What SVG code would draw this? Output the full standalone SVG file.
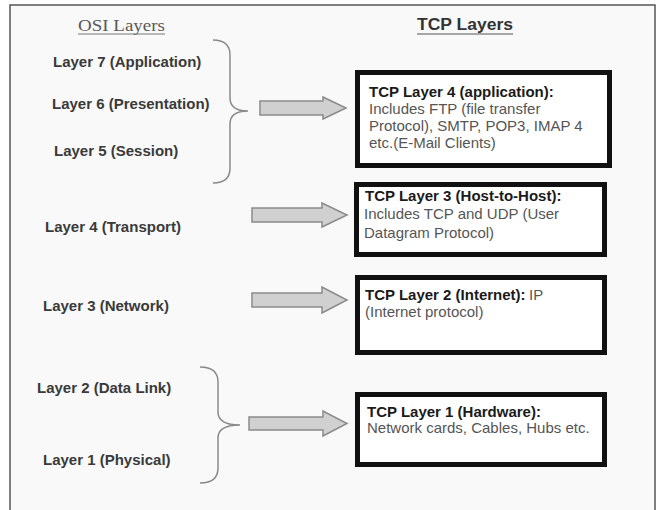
<svg xmlns="http://www.w3.org/2000/svg" width="659" height="510" viewBox="0 0 659 510">
<style>
.lbl{font-family:"Liberation Sans",Arial,sans-serif;font-size:15px;font-weight:bold;fill:#3a3a3a}
.ttl{font-family:"Liberation Sans",Arial,sans-serif;font-size:15px;font-weight:bold;fill:#1a1a1a}
.body{font-family:"Liberation Sans",Arial,sans-serif;font-size:15px;fill:#555}
.box{fill:#fff;stroke:#111;stroke-width:5}
.arrow{fill:#d0d0d0;stroke:#8a8a8a;stroke-width:1.5;stroke-linejoin:miter}
.brace{fill:none;stroke:#8a8a8a;stroke-width:1.5}
</style>
<rect x="0" y="0" width="659" height="510" fill="#fff"/>
<rect x="10" y="5" width="645" height="505" fill="#f9f9f9"/>
<path d="M10,510 V5 H655 V510" fill="none" stroke="#555" stroke-width="1.5"/>

<g id="headers">
<text x="78" y="31" font-family="'Liberation Serif','Times New Roman',serif" font-size="16" fill="#5a5a5a" textLength="87" lengthAdjust="spacingAndGlyphs">OSI Layers</text>
<line x1="78" y1="34" x2="165" y2="34" stroke="#777" stroke-width="1"/>
<text x="417" y="30" font-family="'Liberation Sans',Arial,sans-serif" font-size="16" font-weight="bold" fill="#333" textLength="96" lengthAdjust="spacingAndGlyphs">TCP Layers</text>
<line x1="417" y1="34" x2="513" y2="34" stroke="#555" stroke-width="1"/>
</g>

<g id="osi7"><text class="lbl" x="53" y="67">Layer 7 (Application)</text></g>
<g id="osi6"><text class="lbl" x="52" y="109">Layer 6 (Presentation)</text></g>
<g id="osi5"><text class="lbl" x="54" y="156">Layer 5 (Session)</text></g>
<g id="osi4"><text class="lbl" x="45" y="232">Layer 4 (Transport)</text></g>
<g id="osi3"><text class="lbl" x="43" y="311">Layer 3 (Network)</text></g>
<g id="osi2"><text class="lbl" x="37" y="393">Layer 2 (Data Link)</text></g>
<g id="osi1"><text class="lbl" x="43" y="465">Layer 1 (Physical)</text></g>

<g id="tcp4">
<rect class="box" x="357.5" y="72.5" width="252" height="93"/>
<text class="ttl" x="369" y="97">TCP Layer 4 (application):</text>
<text class="body" x="369" y="114">Includes FTP (file transfer</text>
<text class="body" x="369" y="131">Protocol), SMTP, POP3, IMAP 4</text>
<text class="body" x="369" y="148">etc.(E-Mail Clients)</text>
</g>
<g id="tcp3">
<rect class="box" x="356.5" y="184.5" width="248" height="70"/>
<text class="ttl" x="365" y="201">TCP Layer 3 (Host-to-Host):</text>
<text class="body" x="364" y="219">Includes TCP and UDP (User</text>
<text class="body" x="364" y="238">Datagram Protocol)</text>
</g>
<g id="tcp2">
<rect class="box" x="357.5" y="277.5" width="247" height="75"/>
<text class="ttl" x="365" y="300">TCP Layer 2 (Internet):</text>
<text class="body" x="529" y="300">IP</text>
<text class="body" x="365" y="317">(Internet protocol)</text>
</g>
<g id="tcp1">
<rect class="box" x="357.5" y="394.5" width="247" height="70"/>
<text class="ttl" x="367" y="417">TCP Layer 1 (Hardware):</text>
<text class="body" x="367" y="433">Network cards, Cables, Hubs etc.</text>
</g>

<g id="connectors">
<path class="brace" d="M213,40 Q230,40 230,55 V98 Q230,111 248,111 Q230,111 230,124 V168 Q230,183 213,183"/>
<path class="brace" d="M200,367 Q218,367 218,382 V412 Q218,425 240,425 Q218,425 218,438 V468 Q218,483 200,483"/>
<polygon class="arrow" points="260,101 323,101 323,97 346,108 323,119 323,115 260,115"/>
<polygon class="arrow" points="252,208 322,208 322,203 347,215 322,227 322,222 252,222"/>
<polygon class="arrow" points="252,293 322,293 322,287 347,300 322,313 322,307 252,307"/>
<polygon class="arrow" points="249,417 323,417 323,411 347,423.5 323,436 323,430 249,430"/>
</g>
</svg>
